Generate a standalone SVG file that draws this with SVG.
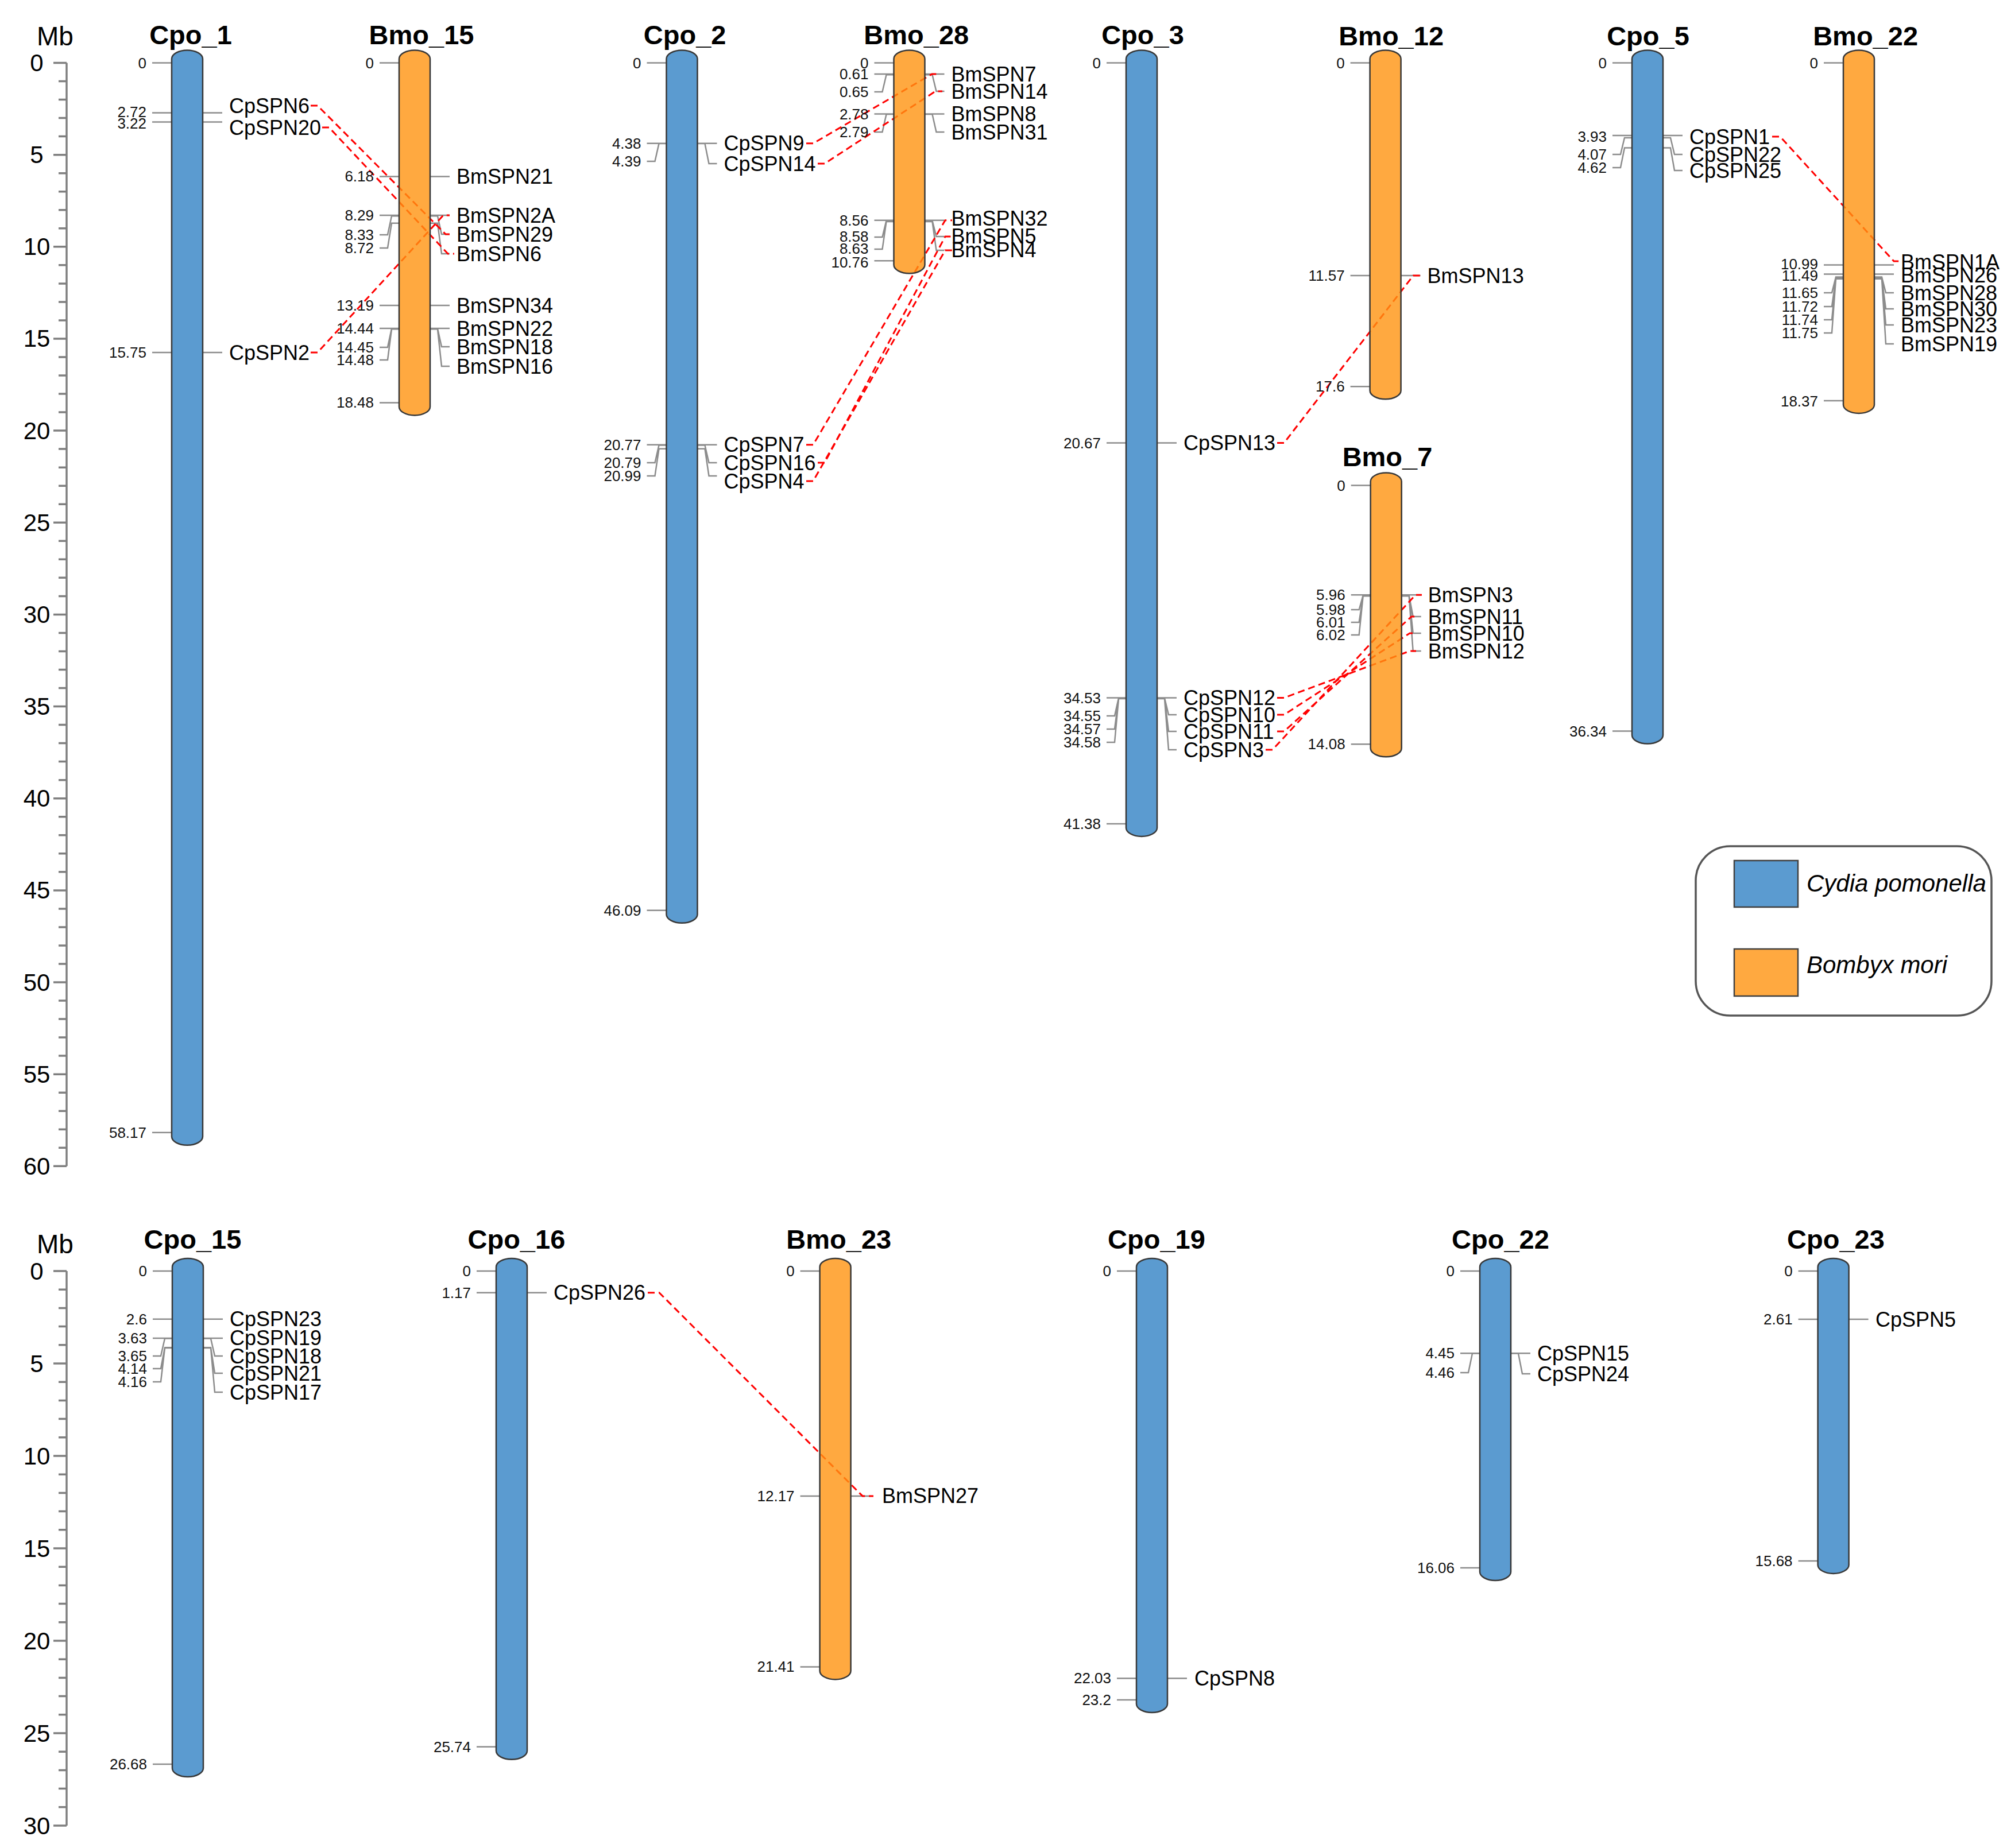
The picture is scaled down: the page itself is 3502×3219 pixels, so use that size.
<svg xmlns="http://www.w3.org/2000/svg" width="3502" height="3219" viewBox="0 0 3502 3219">
<style>
text{font-family:"Liberation Sans",Arial,sans-serif;fill:#111}
.ttl{font-size:47px;font-weight:bold;text-anchor:middle;fill:#000}
.pos{font-size:26px;text-anchor:end;dominant-baseline:central}
.gene{font-size:36px;dominant-baseline:central;fill:#000}
.axl{font-size:42px;text-anchor:middle;dominant-baseline:central;fill:#000}
.mb{font-size:46px;text-anchor:middle;fill:#000}
.cp{fill:#5B9BD0;stroke:#383838;stroke-width:2.5}
.bm{fill:#FF9310;fill-opacity:0.8;stroke:#383838;stroke-width:2.5}
.tk{fill:none;stroke:#8c8c8c;stroke-width:2.5}
.lk{fill:none;stroke:#FF0000;stroke-width:3;stroke-dasharray:12 7}
.ax{fill:none;stroke:#7f7f7f;stroke-width:3.5}
.leg{fill:#fff;stroke:#555;stroke-width:3.5}
.sw{stroke:#404040;stroke-width:2.5}
.it{font-size:42px;font-style:italic;fill:#000}
</style>
<rect width="3502" height="3219" fill="#fff"/>

<g id="axis-top">
<text class="mb" x="96" y="79">Mb</text>
<path class="ax" d="M116 109.5V2031.3"/>
<path class="ax" d="M93 109.5H116M102 141.5H116M102 173.6H116M102 205.6H116M102 237.6H116M93 269.7H116M102 301.7H116M102 333.7H116M102 365.7H116M102 397.8H116M93 429.8H116M102 461.8H116M102 493.9H116M102 525.9H116M102 557.9H116M93 589.9H116M102 622H116M102 654H116M102 686H116M102 718.1H116M93 750.1H116M102 782.1H116M102 814.2H116M102 846.2H116M102 878.2H116M93 910.3H116M102 942.3H116M102 974.3H116M102 1006.3H116M102 1038.4H116M93 1070.4H116M102 1102.4H116M102 1134.5H116M102 1166.5H116M102 1198.5H116M93 1230.6H116M102 1262.6H116M102 1294.6H116M102 1326.6H116M102 1358.7H116M93 1390.7H116M102 1422.7H116M102 1454.8H116M102 1486.8H116M102 1518.8H116M93 1550.9H116M102 1582.9H116M102 1614.9H116M102 1646.9H116M102 1679H116M93 1711H116M102 1743H116M102 1775.1H116M102 1807.1H116M102 1839.1H116M93 1871.2H116M102 1903.2H116M102 1935.2H116M102 1967.2H116M102 1999.3H116M93 2031.3H116"/>
<text class="axl" x="64" y="109.5">0</text>
<text class="axl" x="64" y="269.7">5</text>
<text class="axl" x="64" y="429.8">10</text>
<text class="axl" x="64" y="589.9">15</text>
<text class="axl" x="64" y="750.1">20</text>
<text class="axl" x="64" y="910.3">25</text>
<text class="axl" x="64" y="1070.4">30</text>
<text class="axl" x="64" y="1230.6">35</text>
<text class="axl" x="64" y="1390.7">40</text>
<text class="axl" x="64" y="1550.9">45</text>
<text class="axl" x="64" y="1711">50</text>
<text class="axl" x="64" y="1871.2">55</text>
<text class="axl" x="64" y="2031.3">60</text>
</g>

<g id="axis-bottom">
<text class="mb" x="96" y="2183">Mb</text>
<path class="ax" d="M116 2214V3180"/>
<path class="ax" d="M93 2214H116M102 2246.2H116M102 2278.4H116M102 2310.6H116M102 2342.8H116M93 2375H116M102 2407.2H116M102 2439.4H116M102 2471.6H116M102 2503.8H116M93 2536H116M102 2568.2H116M102 2600.4H116M102 2632.6H116M102 2664.8H116M93 2697H116M102 2729.2H116M102 2761.4H116M102 2793.6H116M102 2825.8H116M93 2858H116M102 2890.2H116M102 2922.4H116M102 2954.6H116M102 2986.8H116M93 3019H116M102 3051.2H116M102 3083.4H116M102 3115.6H116M102 3147.8H116M93 3180H116"/>
<text class="axl" x="64" y="2214">0</text>
<text class="axl" x="64" y="2375">5</text>
<text class="axl" x="64" y="2536">10</text>
<text class="axl" x="64" y="2697">15</text>
<text class="axl" x="64" y="2858">20</text>
<text class="axl" x="64" y="3019">25</text>
<text class="axl" x="64" y="3180">30</text>
</g>

<g id="marks">
<path id="Cpo_1-marks" class="tk" d="M265 109.5H299M265 196.6H299M265 212.6H299M265 614H299M265 1972.7H299M353 196.6H387M353 212.6H387M353 614H387"/>
<path id="Bmo_15-marks" class="tk" d="M661 109.5H695M661 307.4H695M661 375H695M695 376.3H682L675 409H661M695 388.8H682L675 432H661M661 532H695M661 572H695M695 572.3H682L675 605H661M695 573.3H682L675 627H661M661 701.4H695M749 307.4H783M749 375H783M749 376.3H762L769 408H783M749 388.8H762L769 442H783M749 532H783M749 572H783M749 572.3H762L769 604H783M749 573.3H762L769 638H783"/>
<path id="Cpo_2-marks" class="tk" d="M1126.5 109.5H1160.5M1126.5 249.8H1160.5M1160.5 250.1H1147.5L1140.5 281H1126.5M1126.5 774.8H1160.5M1160.5 775.4H1147.5L1140.5 806H1126.5M1160.5 781.8H1147.5L1140.5 829H1126.5M1126.5 1585.8H1160.5M1214.5 249.8H1248.5M1214.5 250.1H1227.5L1234.5 285H1248.5M1214.5 774.8H1248.5M1214.5 775.4H1227.5L1234.5 806H1248.5M1214.5 781.8H1227.5L1234.5 829H1248.5"/>
<path id="Bmo_28-marks" class="tk" d="M1522.5 109.5H1556.5M1522.5 129H1556.5M1556.5 130.3H1543.5L1536.5 160H1522.5M1522.5 198.5H1556.5M1556.5 198.9H1543.5L1536.5 230H1522.5M1522.5 383.7H1556.5M1556.5 384.3H1543.5L1536.5 413H1522.5M1556.5 385.9H1543.5L1536.5 434H1522.5M1522.5 454.2H1556.5M1610.5 129H1644.5M1610.5 130.3H1623.5L1630.5 159H1644.5M1610.5 198.5H1644.5M1610.5 198.9H1623.5L1630.5 230H1644.5M1610.5 383.7H1644.5M1610.5 384.3H1623.5L1630.5 412H1644.5M1610.5 385.9H1623.5L1630.5 436H1644.5"/>
<path id="Cpo_3-marks" class="tk" d="M1927 109.5H1961M1927 771.6H1961M1927 1215.5H1961M1961 1216.1H1948L1941 1247H1927M1961 1216.8H1948L1941 1270H1927M1961 1217.1H1948L1941 1293H1927M1927 1434.9H1961M2015 771.6H2049M2015 1215.5H2049M2015 1216.1H2028L2035 1245H2049M2015 1216.8H2028L2035 1274H2049M2015 1217.1H2028L2035 1306H2049"/>
<path id="Bmo_12-marks" class="tk" d="M2351.6 109.5H2385.6M2351.6 480.1H2385.6M2351.6 673.2H2385.6M2439.6 480.1H2473.6"/>
<path id="Bmo_7-marks" class="tk" d="M2352.7 845.6H2386.7M2352.7 1036.3H2386.7M2386.7 1037H2373.7L2366.7 1062H2352.7M2386.7 1037.9H2373.7L2366.7 1084H2352.7M2386.7 1038.2H2373.7L2366.7 1106H2352.7M2352.7 1296.2H2386.7M2440.7 1036.3H2474.7M2440.7 1037H2453.7L2460.7 1074H2474.7M2440.7 1037.9H2453.7L2460.7 1103H2474.7M2440.7 1038.2H2453.7L2460.7 1134H2474.7"/>
<path id="Cpo_5-marks" class="tk" d="M2808 109.5H2842M2808 236H2842M2842 240H2829L2822 269H2808M2842 257.5H2829L2822 292H2808M2808 1273.5H2842M2896 236H2930M2896 240H2909L2916 269H2930M2896 257.5H2909L2916 297H2930"/>
<path id="Bmo_22-marks" class="tk" d="M3176 109.5H3210M3176 461.5H3210M3176 477.5H3210M3210 482.6H3197L3190 510H3176M3210 484.9H3197L3190 534H3176M3210 485.5H3197L3190 557H3176M3210 485.8H3197L3190 580H3176M3176 697.9H3210M3264 461.5H3298M3264 477.5H3298M3264 482.6H3277L3284 510H3298M3264 484.9H3277L3284 538H3298M3264 485.5H3277L3284 566H3298M3264 485.8H3277L3284 599H3298"/>
<path id="Cpo_15-marks" class="tk" d="M266 2214H300M266 2297.7H300M266 2330.9H300M300 2331.5H287L280 2362H266M300 2347.3H287L280 2384H266M300 2348H287L280 2407H266M266 3073.1H300M354 2297.7H388M354 2330.9H388M354 2331.5H367L374 2362H388M354 2347.3H367L374 2392H388M354 2348H367L374 2425H388"/>
<path id="Cpo_16-marks" class="tk" d="M830 2214H864M830 2251.7H864M830 3042.8H864M918 2251.7H952"/>
<path id="Bmo_23-marks" class="tk" d="M1393.6 2214H1427.6M1393.6 2605.9H1427.6M1393.6 2903.4H1427.6M1481.6 2605.9H1515.6"/>
<path id="Cpo_19-marks" class="tk" d="M1945 2214H1979M1945 2923.4H1979M1945 2961H1979M2033 2923.4H2067"/>
<path id="Cpo_22-marks" class="tk" d="M2543 2214H2577M2543 2357.3H2577M2577 2357.6H2564L2557 2391H2543M2543 2731.1H2577M2631 2357.3H2665M2631 2357.6H2644L2651 2393H2665"/>
<path id="Cpo_23-marks" class="tk" d="M3131.6 2214H3165.6M3131.6 2298H3165.6M3131.6 2718.9H3165.6M3219.6 2298H3253.6"/>
</g>

<g id="connectors">
<path class="lk" d="M541 184H553L776 408H787"/>
<path class="lk" d="M561 222H573L780 442H791"/>
<path class="lk" d="M541 614H553L772 375H783"/>
<path class="lk" d="M1404 249.8H1416L1623 129H1635"/>
<path class="lk" d="M1424 285H1436L1629 159H1641"/>
<path class="lk" d="M1404 774.8H1416L1646 383.7H1658"/>
<path class="lk" d="M1424 806H1436L1646 412H1658"/>
<path class="lk" d="M1404 838H1416L1646 436H1658"/>
<path class="lk" d="M2224 771.6H2236L2461 480.1H2473"/>
<path class="lk" d="M2224 1215.5H2236L2455 1134H2466"/>
<path class="lk" d="M2224 1245H2236L2455 1103H2466"/>
<path class="lk" d="M2224 1274H2236L2458 1074H2469"/>
<path class="lk" d="M2204 1306H2216L2465 1036.3H2476"/>
<path class="lk" d="M3086 238H3100L3298 455H3309"/>
<path class="lk" d="M1128 2251.7H1148L1502 2605.9H1521"/>
</g>

<g id="Cpo_1">
<rect class="cp" x="299" y="87.5" width="54" height="1907.2" rx="27" ry="15"/>
<text class="ttl" x="332" y="77">Cpo_1</text>
<text class="pos" x="255" y="109.5">0</text>
<text class="pos" x="255" y="195">2.72</text>
<text class="pos" x="255" y="215">3.22</text>
<text class="pos" x="255" y="614">15.75</text>
<text class="pos" x="255" y="1972.7">58.17</text>
<text class="gene" x="399" y="184">CpSPN6</text>
<text class="gene" x="399" y="222">CpSPN20</text>
<text class="gene" x="399" y="614">CpSPN2</text>
</g>

<g id="Bmo_15">
<rect class="bm" x="695" y="87.5" width="54" height="635.9" rx="27" ry="15"/>
<text class="ttl" x="734" y="77">Bmo_15</text>
<text class="pos" x="651" y="109.5">0</text>
<text class="pos" x="651" y="307.4">6.18</text>
<text class="pos" x="651" y="375">8.29</text>
<text class="pos" x="651" y="409">8.33</text>
<text class="pos" x="651" y="432">8.72</text>
<text class="pos" x="651" y="532">13.19</text>
<text class="pos" x="651" y="572">14.44</text>
<text class="pos" x="651" y="605">14.45</text>
<text class="pos" x="651" y="627">14.48</text>
<text class="pos" x="651" y="701.4">18.48</text>
<text class="gene" x="795" y="307.4">BmSPN21</text>
<text class="gene" x="795" y="375">BmSPN2A</text>
<text class="gene" x="795" y="408">BmSPN29</text>
<text class="gene" x="795" y="442">BmSPN6</text>
<text class="gene" x="795" y="532">BmSPN34</text>
<text class="gene" x="795" y="572">BmSPN22</text>
<text class="gene" x="795" y="604">BmSPN18</text>
<text class="gene" x="795" y="638">BmSPN16</text>
</g>

<g id="Cpo_2">
<rect class="cp" x="1160.5" y="87.5" width="54" height="1520.3" rx="27" ry="15"/>
<text class="ttl" x="1192.6" y="77">Cpo_2</text>
<text class="pos" x="1116.5" y="109.5">0</text>
<text class="pos" x="1116.5" y="249.8">4.38</text>
<text class="pos" x="1116.5" y="281">4.39</text>
<text class="pos" x="1116.5" y="774.8">20.77</text>
<text class="pos" x="1116.5" y="806">20.79</text>
<text class="pos" x="1116.5" y="829">20.99</text>
<text class="pos" x="1116.5" y="1585.8">46.09</text>
<text class="gene" x="1260.5" y="249.8">CpSPN9</text>
<text class="gene" x="1260.5" y="285">CpSPN14</text>
<text class="gene" x="1260.5" y="774.8">CpSPN7</text>
<text class="gene" x="1260.5" y="806">CpSPN16</text>
<text class="gene" x="1260.5" y="838">CpSPN4</text>
</g>

<g id="Bmo_28">
<rect class="bm" x="1556.5" y="87.5" width="54" height="388.7" rx="27" ry="15"/>
<text class="ttl" x="1595.8" y="77">Bmo_28</text>
<text class="pos" x="1512.5" y="109.5">0</text>
<text class="pos" x="1512.5" y="129">0.61</text>
<text class="pos" x="1512.5" y="160">0.65</text>
<text class="pos" x="1512.5" y="198.5">2.78</text>
<text class="pos" x="1512.5" y="230">2.79</text>
<text class="pos" x="1512.5" y="383.7">8.56</text>
<text class="pos" x="1512.5" y="412">8.58</text>
<text class="pos" x="1512.5" y="433">8.63</text>
<text class="pos" x="1512.5" y="457">10.76</text>
<text class="gene" x="1656.5" y="129">BmSPN7</text>
<text class="gene" x="1656.5" y="159">BmSPN14</text>
<text class="gene" x="1656.5" y="198.5">BmSPN8</text>
<text class="gene" x="1656.5" y="230">BmSPN31</text>
<text class="gene" x="1656.5" y="380">BmSPN32</text>
<text class="gene" x="1656.5" y="411">BmSPN5</text>
<text class="gene" x="1656.5" y="435">BmSPN4</text>
</g>

<g id="Cpo_3">
<rect class="cp" x="1961" y="87.5" width="54" height="1369.4" rx="27" ry="15"/>
<text class="ttl" x="1990" y="77">Cpo_3</text>
<text class="pos" x="1917" y="109.5">0</text>
<text class="pos" x="1917" y="771.6">20.67</text>
<text class="pos" x="1917" y="1215.5">34.53</text>
<text class="pos" x="1917" y="1247">34.55</text>
<text class="pos" x="1917" y="1270">34.57</text>
<text class="pos" x="1917" y="1293">34.58</text>
<text class="pos" x="1917" y="1434.9">41.38</text>
<text class="gene" x="2061" y="771.6">CpSPN13</text>
<text class="gene" x="2061" y="1215.5">CpSPN12</text>
<text class="gene" x="2061" y="1245">CpSPN10</text>
<text class="gene" x="2061" y="1274">CpSPN11</text>
<text class="gene" x="2061" y="1306">CpSPN3</text>
</g>

<g id="Bmo_12">
<rect class="bm" x="2385.6" y="87.5" width="54" height="607.7" rx="27" ry="15"/>
<text class="ttl" x="2422.6" y="79">Bmo_12</text>
<text class="pos" x="2341.6" y="109.5">0</text>
<text class="pos" x="2341.6" y="480.1">11.57</text>
<text class="pos" x="2341.6" y="673.2">17.6</text>
<text class="gene" x="2485.6" y="480.1">BmSPN13</text>
</g>

<g id="Bmo_7">
<rect class="bm" x="2386.7" y="823.6" width="54" height="494.6" rx="27" ry="15"/>
<text class="ttl" x="2416" y="812">Bmo_7</text>
<text class="pos" x="2342.7" y="845.6">0</text>
<text class="pos" x="2342.7" y="1036.3">5.96</text>
<text class="pos" x="2342.7" y="1062">5.98</text>
<text class="pos" x="2342.7" y="1084">6.01</text>
<text class="pos" x="2342.7" y="1106">6.02</text>
<text class="pos" x="2342.7" y="1296.2">14.08</text>
<text class="gene" x="2486.7" y="1036.3">BmSPN3</text>
<text class="gene" x="2486.7" y="1074">BmSPN11</text>
<text class="gene" x="2486.7" y="1103">BmSPN10</text>
<text class="gene" x="2486.7" y="1134">BmSPN12</text>
</g>

<g id="Cpo_5">
<rect class="cp" x="2842" y="87.5" width="54" height="1208" rx="27" ry="15"/>
<text class="ttl" x="2870" y="79">Cpo_5</text>
<text class="pos" x="2798" y="109.5">0</text>
<text class="pos" x="2798" y="238">3.93</text>
<text class="pos" x="2798" y="269">4.07</text>
<text class="pos" x="2798" y="292">4.62</text>
<text class="pos" x="2798" y="1273.5">36.34</text>
<text class="gene" x="2942" y="238">CpSPN1</text>
<text class="gene" x="2942" y="269">CpSPN22</text>
<text class="gene" x="2942" y="297">CpSPN25</text>
</g>

<g id="Bmo_22">
<rect class="bm" x="3210" y="87.5" width="54" height="632.4" rx="27" ry="15"/>
<text class="ttl" x="3248.6" y="79">Bmo_22</text>
<text class="pos" x="3166" y="109.5">0</text>
<text class="pos" x="3166" y="460">10.99</text>
<text class="pos" x="3166" y="480">11.49</text>
<text class="pos" x="3166" y="510">11.65</text>
<text class="pos" x="3166" y="534">11.72</text>
<text class="pos" x="3166" y="557">11.74</text>
<text class="pos" x="3166" y="580">11.75</text>
<text class="pos" x="3166" y="699">18.37</text>
<text class="gene" x="3310" y="456">BmSPN1A</text>
<text class="gene" x="3310" y="479">BmSPN26</text>
<text class="gene" x="3310" y="510">BmSPN28</text>
<text class="gene" x="3310" y="538">BmSPN30</text>
<text class="gene" x="3310" y="566">BmSPN23</text>
<text class="gene" x="3310" y="599">BmSPN19</text>
</g>

<g id="Cpo_15">
<rect class="cp" x="300" y="2192" width="54" height="903.1" rx="27" ry="15"/>
<text class="ttl" x="335.5" y="2175">Cpo_15</text>
<text class="pos" x="256" y="2214">0</text>
<text class="pos" x="256" y="2297.7">2.6</text>
<text class="pos" x="256" y="2330.9">3.63</text>
<text class="pos" x="256" y="2362">3.65</text>
<text class="pos" x="256" y="2384">4.14</text>
<text class="pos" x="256" y="2407">4.16</text>
<text class="pos" x="256" y="3073.1">26.68</text>
<text class="gene" x="400" y="2297.7">CpSPN23</text>
<text class="gene" x="400" y="2330.9">CpSPN19</text>
<text class="gene" x="400" y="2362">CpSPN18</text>
<text class="gene" x="400" y="2392">CpSPN21</text>
<text class="gene" x="400" y="2425">CpSPN17</text>
</g>

<g id="Cpo_16">
<rect class="cp" x="864" y="2192" width="54" height="872.8" rx="27" ry="15"/>
<text class="ttl" x="899.4" y="2175">Cpo_16</text>
<text class="pos" x="820" y="2214">0</text>
<text class="pos" x="820" y="2251.7">1.17</text>
<text class="pos" x="820" y="3042.8">25.74</text>
<text class="gene" x="964" y="2251.7">CpSPN26</text>
</g>

<g id="Bmo_23">
<rect class="bm" x="1427.6" y="2192" width="54" height="733.4" rx="27" ry="15"/>
<text class="ttl" x="1460.8" y="2175">Bmo_23</text>
<text class="pos" x="1383.6" y="2214">0</text>
<text class="pos" x="1383.6" y="2605.9">12.17</text>
<text class="pos" x="1383.6" y="2903.4">21.41</text>
<text class="gene" x="1536" y="2605.9">BmSPN27</text>
</g>

<g id="Cpo_19">
<rect class="cp" x="1979" y="2192" width="54" height="791" rx="27" ry="15"/>
<text class="ttl" x="2014" y="2175">Cpo_19</text>
<text class="pos" x="1935" y="2214">0</text>
<text class="pos" x="1935" y="2923.4">22.03</text>
<text class="pos" x="1935" y="2961">23.2</text>
<text class="gene" x="2080" y="2923.4">CpSPN8</text>
</g>

<g id="Cpo_22">
<rect class="cp" x="2577" y="2192" width="54" height="561.1" rx="27" ry="15"/>
<text class="ttl" x="2613" y="2175">Cpo_22</text>
<text class="pos" x="2533" y="2214">0</text>
<text class="pos" x="2533" y="2357.3">4.45</text>
<text class="pos" x="2533" y="2391">4.46</text>
<text class="pos" x="2533" y="2731.1">16.06</text>
<text class="gene" x="2677" y="2357.3">CpSPN15</text>
<text class="gene" x="2677" y="2393">CpSPN24</text>
</g>

<g id="Cpo_23">
<rect class="cp" x="3165.6" y="2192" width="54" height="548.9" rx="27" ry="15"/>
<text class="ttl" x="3197" y="2175">Cpo_23</text>
<text class="pos" x="3121.6" y="2214">0</text>
<text class="pos" x="3121.6" y="2298">2.61</text>
<text class="pos" x="3121.6" y="2718.9">15.68</text>
<text class="gene" x="3266" y="2298">CpSPN5</text>
</g>

<g id="legend">
<rect class="leg" x="2953" y="1474" width="515" height="295" rx="60" ry="60"/>
<rect class="sw" x="3020" y="1499" width="111" height="81" fill="#5B9BD0"/>
<rect class="sw" x="3020" y="1653" width="111" height="82" fill="#FFA940"/>
<text class="it" x="3146" y="1553">Cydia pomonella</text>
<text class="it" x="3146" y="1695">Bombyx mori</text>
</g>
</svg>
